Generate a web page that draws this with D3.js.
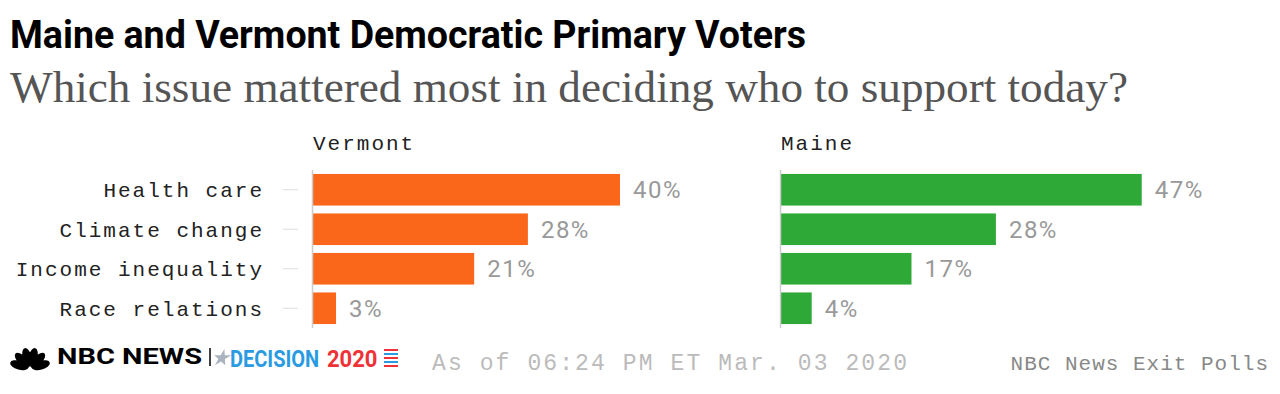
<!DOCTYPE html>
<html lang="en">
<head>
  <meta charset="UTF-8">
  <title>Maine and Vermont Democratic Primary Voters</title>
  <style>
    body { margin: 0; background: #fff; }
    svg { display: block; }
    .mono { font-family: "Liberation Mono", "DejaVu Sans Mono", monospace; }
  </style>
  <script src="https://d3js.org/d3.v7.min.js"></script>
</head>
<body>
  <div id="chart"></div>
  <script>
  const categories = ['Health care', 'Climate change', 'Income inequality', 'Race relations'];
  const vermontValues = [40, 28, 21, 3];
  const maineValues = [47, 28, 17, 4];
  const panels = [
    { name: 'Vermont', values: vermontValues, color: '#fa671a', left: 313 },
    { name: 'Maine', values: maineValues, color: '#2ea836', left: 781 }
  ];

  const W = 1280, H = 394;
  const svg = d3.select('#chart').append('svg')
    .attr('width', W).attr('height', H);

  // titles
  svg.append('text')
    .attr('x', 10).attr('y', 48)
    .attr('textLength', 796).attr('lengthAdjust', 'spacingAndGlyphs')
    .style('font-family', 'Roboto, sans-serif')
    .style('font-weight', 700).style('font-size', '38px')
    .attr('fill', '#000')
    .text('Maine and Vermont Democratic Primary Voters');

  svg.append('text')
    .attr('x', 10).attr('y', 102)
    .attr('textLength', 1118).attr('lengthAdjust', 'spacingAndGlyphs')
    .style('font-family', '"Liberation Serif", serif')
    .style('font-size', '44px')
    .attr('fill', '#555')
    .text('Which issue mattered most in deciding who to support today?');

  // shared scales
  const y = d3.scaleBand().domain(categories)
    .range([170, 328]).paddingInner(0.2).paddingOuter(0.1);
  const x = d3.scaleLinear().domain([0, 100]).range([0, 767.5]);

  // category labels + ticks (left side only)
  const labels = svg.append('g');
  labels.selectAll('text').data(categories).join('text')
    .attr('class', 'mono')
    .attr('x', 264).attr('y', d => y(d) + y.bandwidth() / 2)
    .attr('dy', '0.35em')
    .attr('text-anchor', 'end')
    .style('font-size', '21px').style('letter-spacing', '2px')
    .attr('fill', '#222')
    .text(d => d);
  labels.selectAll('line').data(categories).join('line')
    .attr('x1', 283).attr('x2', 298)
    .attr('y1', d => y(d) + y.bandwidth() / 2)
    .attr('y2', d => y(d) + y.bandwidth() / 2)
    .attr('stroke', '#ddd').attr('stroke-width', 1);

  panels.forEach(p => {
    const g = svg.append('g');
    const rows = categories.map((c, i) => ({ cat: c, value: p.values[i] }));

    g.append('text')
      .attr('class', 'mono')
      .attr('x', p.left).attr('y', 150)
      .style('font-size', '21px').style('letter-spacing', '2px')
      .attr('fill', '#222')
      .text(p.name);

    g.selectAll('rect').data(rows).join('rect')
      .attr('x', p.left)
      .attr('y', d => y(d.cat))
      .attr('width', d => x(d.value))
      .attr('height', y.bandwidth())
      .attr('fill', p.color);

    g.append('line')
      .attr('x1', p.left - 0.5).attr('x2', p.left - 0.5)
      .attr('y1', y.range()[0]).attr('y2', y.range()[1])
      .attr('stroke', '#ccc').attr('stroke-width', 1.5);

    g.selectAll('text.val').data(rows).join('text')
      .attr('class', 'val')
      .attr('x', d => p.left + x(d.value) + 13)
      .attr('y', d => y(d.cat) + y.bandwidth() / 2)
      .attr('dy', '0.36em')
      .style('font-family', 'Roboto, sans-serif')
      .style('font-size', '24px').style('letter-spacing', '1.5px')
      .attr('fill', '#999')
      .text(d => d.value + '%');
  });

  // footer: logo
  const logo = svg.append('g');
  // peacock feathers
  const cx = 30, cy = 368;
  const angles = [-75, -45, -15, 15, 45, 75];
  angles.forEach(a => {
    logo.append('ellipse')
      .attr('cx', 0).attr('cy', -11).attr('rx', 4.5).attr('ry', 9.5)
      .attr('fill', '#000')
      .attr('transform', `translate(${cx},${cy}) rotate(${a})`);
  });
  logo.append('text')
    .attr('x', 57).attr('y', 364)
    .attr('textLength', 145).attr('lengthAdjust', 'spacingAndGlyphs')
    .style('font-family', 'Roboto, sans-serif')
    .style('font-weight', 700).style('font-size', '22px')
    .attr('fill', '#000')
    .text('NBC NEWS');
  logo.append('line')
    .attr('x1', 210).attr('x2', 210).attr('y1', 348).attr('y2', 366)
    .attr('stroke', '#000').attr('stroke-width', 1.5);
  // star
  const star = d3.symbol().type(d3.symbolStar).size(90);
  logo.append('path').attr('d', star())
    .attr('transform', 'translate(222,358) skewX(-15)')
    .attr('fill', '#aab4be');
  logo.append('text')
    .attr('transform', 'translate(230,367) scale(1,1.2)')
    .style('font-family', 'Roboto, sans-serif')
    .style('font-weight', 700).style('font-size', '20px')
    .attr('fill', '#2a9be3')
    .text('DECISION');
  logo.append('text')
    .attr('transform', 'translate(327,367) scale(1.1,1.2)')
    .style('font-family', 'Roboto, sans-serif')
    .style('font-weight', 700).style('font-size', '20px')
    .attr('fill', '#ee3237')
    .text('2020');
  [349, 353, 357, 361, 365].forEach((yy, i) => {
    logo.append('rect')
      .attr('x', 384).attr('y', yy).attr('width', 14).attr('height', 2)
      .attr('fill', i % 2 ? '#2a9be3' : '#ee3237');
  });

  // footer text
  svg.append('text')
    .attr('class', 'mono')
    .attr('x', 432).attr('y', 370)
    .style('font-size', '23px').style('letter-spacing', '2.1px')
    .attr('fill', '#bbb')
    .text('As of 06:24 PM ET Mar. 03 2020');

  svg.append('text')
    .attr('class', 'mono')
    .attr('x', 1269).attr('y', 370)
    .attr('text-anchor', 'end')
    .style('font-size', '21px').style('letter-spacing', '1px')
    .attr('fill', '#888')
    .text('NBC News Exit Polls');
  </script>
</body>
</html>
